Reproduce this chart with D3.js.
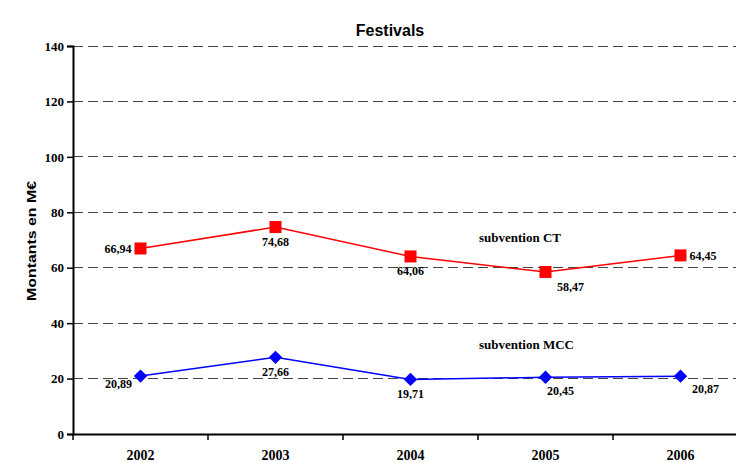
<!DOCTYPE html>
<html><head><meta charset="utf-8">
<script src="https://cdn.jsdelivr.net/npm/d3@7"></script>
<style>body{margin:0;background:#fff}svg{display:block}
.serif{font-family:"Liberation Serif","Times New Roman",Times,serif;font-weight:bold;fill:#000}
.sans{font-family:"Liberation Sans",Arial,Helvetica,sans-serif;font-weight:bold;fill:#000}
</style>
</head><body>
<svg id="c" width="736" height="462"></svg>
<script>
const years = ["2002","2003","2004","2005","2006"];
const ctValues = [66.94, 74.68, 64.06, 58.47, 64.45];
const mccValues = [20.89, 27.66, 19.71, 20.45, 20.87];
const ctLabels = ["66,94","74,68","64,06","58,47","64,45"];
const mccLabels = ["20,89","27,66","19,71","20,45","20,87"];
const yTicks = [0,20,40,60,80,100,120,140];

(function(){
const svg = d3.select("#c");
const mLeft = 73, mRight = 748, mTop = 46, mBottom = 434;
const x = d3.scaleBand().domain(years).range([mLeft, mRight]);
const y = d3.scaleLinear().domain([0,140]).range([mBottom, mTop]);
const cx = d => x(d) + x.bandwidth()/2;

// grid
svg.append("g").selectAll("line").data(yTicks.filter(t=>t>0)).join("line")
  .attr("x1", mLeft).attr("x2", 736).attr("y1", d=>y(d)).attr("y2", d=>y(d))
  .attr("stroke", "#444").attr("stroke-width", 1).attr("stroke-dasharray", "10,5")
  .attr("shape-rendering","crispEdges");

// y axis
const ya = svg.append("g").attr("transform", `translate(${mLeft},0)`)
  .call(d3.axisLeft(y).tickValues(yTicks).tickSize(6).tickFormat(d3.format("d")));
ya.attr("font-family", null).attr("font-size", null);
ya.select(".domain").attr("stroke","#000").attr("stroke-width",2);
ya.selectAll(".tick line").attr("stroke","#000").attr("stroke-width",1.5);
ya.selectAll("text").attr("class","serif").style("font-size","13px").attr("fill","#000").attr("x",-9);

// x axis
const xa = svg.append("g").attr("transform", `translate(0,${mBottom})`)
  .call(d3.axisBottom(x).tickSize(0).tickSizeOuter(0));
xa.attr("font-family", null).attr("font-size", null);
xa.select(".domain").attr("stroke","#000").attr("stroke-width",2);
xa.selectAll("text").attr("class","serif").style("font-size","14px").attr("fill","#000").attr("dy","0").attr("y",26);
svg.append("g").selectAll("line").data(d3.range(0, years.length+1)).join("line")
  .attr("x1", i=>mLeft + i*x.step()).attr("x2", i=>mLeft + i*x.step())
  .attr("y1", mBottom).attr("y2", mBottom+6).attr("stroke","#000").attr("stroke-width",1.5);

// lines
const line = d3.line().x((d,i)=>cx(years[i])).y(d=>y(d));
svg.append("path").datum(ctValues).attr("d", line).attr("fill","none").attr("stroke","#ff0000").attr("stroke-width",1.5);
svg.append("path").datum(mccValues).attr("d", line).attr("fill","none").attr("stroke","#0000ff").attr("stroke-width",1.5);

// markers
svg.append("g").selectAll("rect").data(ctValues).join("rect")
  .attr("x",(d,i)=>cx(years[i])-6).attr("y",d=>y(d)-6).attr("width",12).attr("height",12).attr("fill","#ff0000");
svg.append("g").selectAll("path").data(mccValues).join("path")
  .attr("d", d3.symbol().type(d3.symbolSquare).size(90))
  .attr("transform",(d,i)=>`translate(${cx(years[i])},${y(d)}) rotate(45)`).attr("fill","#0000ff");

// data labels
const ctOff = [[-9,5,"end"],[0,19,"middle"],[0,19,"middle"],[25,19,"middle"],[9,5,"start"]];
const mccOff = [[-22,12,"middle"],[0,19,"middle"],[0,19,"middle"],[15,18,"middle"],[25,17,"middle"]];
function labels(vals, labs, offs){
  svg.append("g").selectAll("text").data(vals).join("text")
    .attr("class","serif").style("font-size","12px")
    .attr("x",(d,i)=>cx(years[i])+offs[i][0]).attr("y",(d,i)=>y(d)+offs[i][1])
    .attr("text-anchor",(d,i)=>offs[i][2])
    .text((d,i)=>labs[i]);
}
labels(ctValues, ctLabels, ctOff);
labels(mccValues, mccLabels, mccOff);

// series names
svg.append("text").attr("class","serif").style("font-size","13px").attr("x",479).attr("y",242).text("subvention CT");
svg.append("text").attr("class","serif").style("font-size","13px").attr("x",479).attr("y",349).text("subvention MCC");

// title
svg.append("text").attr("class","sans").style("font-size","16px").attr("x",390).attr("y",36).attr("text-anchor","middle").text("Festivals");

// y title
svg.append("text").attr("class","sans").style("font-size","13.5px").attr("transform","translate(36,241) rotate(-90)").attr("text-anchor","middle")
  .attr("textLength",120).attr("lengthAdjust","spacingAndGlyphs").text("Montants en M€");
})();
</script>
</body></html>
